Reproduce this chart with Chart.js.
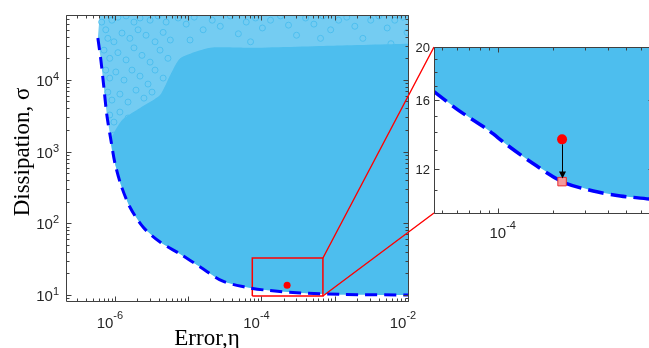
<!DOCTYPE html>
<html>
<head>
<meta charset="utf-8">
<script src="https://cdn.jsdelivr.net/npm/chart.js@4.4.1/dist/chart.umd.min.js"></script>
<style>
  html, body { margin: 0; padding: 0; background: #fff; overflow: hidden; }
  #wrap { position: relative; width: 649px; height: 348px; overflow: hidden; }
  #mainChart { position: absolute; left: 0; top: 0; }
  #insetChart { position: absolute; left: 400px; top: 0; }
</style>
</head>
<body>
<div id="wrap">
  <canvas id="mainChart" width="649" height="348"></canvas>
  <canvas id="insetChart" width="300" height="348"></canvas>
</div>
<script>
// ---- data ----
const mainXRange = [2.15e-7, 1e-2];
const mainYRange = [8.25, 8.04e4];
const insetXRange = [4.5e-5, 7e-4];
const insetYRange = [10, 20];

const mainXTicks = [1e-6, 1e-4, 1e-2];
const mainXTickExp = ['-6', '-4', '-2'];
const mainYTicks = [10, 100, 1000, 10000];
const mainYTickExp = ['1', '2', '3', '4'];
const insetXTicks = [1e-4];
const insetXTickExp = ['-4'];
const insetYTicks = [12, 16, 20];

// pareto front (dashed), main panel
const frontError = [5.85e-7, 6.43e-7, 7.06e-7, 7.76e-7, 8.81e-7, 1.0e-6, 1.21e-6, 1.6e-6, 2.42e-6,
  4.13e-6, 7.77e-6, 1.46e-5, 2.92e-5, 6.04e-5, 1.14e-4, 3.42e-4, 1.21e-3, 1e-2];
const frontDiss = [38400, 18970, 7960, 3236, 1452, 693, 342, 169, 88.7,
  54.8, 37.3, 24.6, 15.7, 12.9, 11.7, 10.7, 10.2, 10];

// outer corner of the sample cloud (top left)
const cloudCorner = [6.2e-7, 8.04e4];

// upper edge of the dense part of the cloud (right to left), joins the front at index 4
const denseEdgeError = [1e-2, 8.8e-4, 7.1e-5, 2.0e-5, 7.8e-6, 5.7e-6, 4.13e-6, 2.2e-6, 1.25e-6];
const denseEdgeDiss = [3.2e4, 3.0e4, 2.8e4, 2.8e4, 2.0e4, 1.17e4, 6150, 4060, 2760];

// individual samples visible in the sparse parts of the cloud
const sampleError = [
  6.6e-7, 7.5e-7, 9.1e-7, 1.10e-6, 1.42e-6, 1.82e-6, 2.2e-6, 3.02e-6, 3.88e-6, 5.0e-6,
  8.0e-7, 9.7e-7, 1.25e-6, 1.6e-6, 2.07e-6, 2.66e-6, 3.53e-6, 4.55e-6, 5.7e-6,
  7.1e-7, 8.5e-7, 1.1e-6, 1.42e-6, 1.82e-6, 2.34e-6, 3.02e-6, 4.13e-6, 5.3e-6,
  7.5e-7, 8.5e-7, 1.03e-6, 1.33e-6, 1.71e-6, 2.2e-6, 2.83e-6, 3.53e-6, 4.55e-6,
  8.0e-7, 9.1e-7, 1.17e-6, 1.51e-6, 1.94e-6, 2.49e-6, 3.21e-6,
  8.5e-7, 9.7e-7, 1.17e-6, 1.51e-6, 9.7e-7, 1.10e-6, 1.33e-6,
  1.10e-6, 1.25e-6, 1.25e-6, 1.51e-6, 1.71e-6, 2.07e-6, 2.66e-6, 3.53e-6, 5.0e-6, 7.3e-6, 1.21e-5, 2.13e-5, 3.76e-5,
  7.3e-6, 9.4e-6, 1.21e-5, 1.6e-5, 2.13e-5, 2.74e-5, 3.76e-5, 4.84e-5, 6.2e-5, 8.3e-5,
  1.03e-4, 1.33e-4, 1.82e-4, 2.34e-4, 3.01e-4, 4.0e-4, 5.2e-4, 6.9e-4, 8.8e-4, 1.13e-3,
  1.46e-3, 1.88e-3, 2.42e-3, 3.1e-3, 4.0e-3, 5.2e-3, 6.6e-3, 8.5e-3, 9.7e-3,
  1.06e-5, 7.1e-5, 6.4e-4, 5.85e-3
];
const sampleDiss = [
  6.4e4, 5.0e4, 6.8e4, 7.5e4, 7.8e4, 6.4e4, 7.3e4, 6.8e4, 7.8e4, 6.4e4,
  3.8e4, 3.4e4, 4.5e4, 3.8e4, 5.0e4, 4.2e4, 3.4e4, 4.6e4, 3.6e4,
  2.6e4, 2.0e4, 2.4e4, 1.9e4, 2.8e4, 2.2e4, 1.77e4, 2.6e4, 2.0e4,
  1.37e4, 1.06e4, 1.29e4, 9950, 1.37e4, 1.13e4, 8750, 1.37e4, 1.06e4,
  6760, 5230, 6340, 4910, 7200, 5570, 6760,
  3240, 2580, 3560, 2940, 1700, 1450, 1880,
  900, 1050, 555, 430, 273, 211, 139, 104, 76, 58, 42, 33, 23.8,
  7.3e4, 6.0e4, 7.5e4, 5.0e4, 6.8e4, 5.6e4, 7.8e4, 4.4e4, 6.4e4, 7.3e4,
  5.3e4, 6.8e4, 7.8e4, 5.8e4, 4.2e4, 7.3e4, 6.0e4, 7.8e4, 5.0e4, 6.8e4,
  7.5e4, 5.6e4, 3.8e4, 6.8e4, 7.8e4, 5.3e4, 6.8e4, 7.5e4, 4.6e4,
  3.6e4, 3.4e4, 3.8e4, 3.2e4
];

// chosen design: before (dot) and after (square) the move onto the front
const markerError = [2.24e-4, 2.24e-4];
const markerDiss = [13.7, 11.4];
const insetMarkerDiss = [13.6, 11.4];

// zoom box in the main panel
const zoomBoxError = [7.5e-5, 6.9e-4];
const zoomBoxDiss = [9.7, 32.8];

// pareto front as seen in the inset
const insetFrontError = [4.5e-5, 6.04e-5, 8.71e-5, 1.12e-4, 1.5e-4, 2.24e-4, 3.31e-4, 4.65e-4, 6.68e-4, 7e-4];
const insetFrontDiss = [16.6, 15.4, 14.2, 13.3, 12.4, 11.4, 10.96, 10.74, 10.6, 10.55];

// ---- styling ----
const CLOUD = 'rgb(77,190,238)';
const CLOUD_LIGHT = 'rgba(77,190,238,0.78)';
const AXIS_COLOR = '#404040';
const LABEL_COLOR = '#262626';
const SANS = '"Liberation Sans", Arial, sans-serif';
const SERIF = '"Liberation Serif", "Times New Roman", serif';

const pts = (xs, ys) => xs.map((v, i) => ({ x: v, y: ys[i] }));

function logTicks(min, max) {
  const out = [];
  for (let d = Math.floor(Math.log10(min)); d <= Math.ceil(Math.log10(max)); d++) {
    for (let k = 1; k <= 9; k++) {
      const v = k * Math.pow(10, d);
      if (v >= min * 0.999 && v <= max * 1.001) out.push({ v: v, major: k === 1 });
    }
  }
  return out;
}

function drawBox(chart, xt, yt) {
  const { ctx, chartArea: a, scales: { x, y } } = chart;
  const L = Math.round(a.left) + 0.5, R = Math.round(a.right) + 0.5;
  const T = Math.round(a.top) + 0.5, B = Math.round(a.bottom) + 0.5;
  ctx.save();
  ctx.strokeStyle = AXIS_COLOR;
  ctx.lineWidth = 1;
  ctx.beginPath();
  ctx.rect(L, T, R - L, B - T);
  xt.forEach(t => {
    const p = Math.round(x.getPixelForValue(t.v)) + 0.5;
    const len = t.major ? 5 : 3;
    ctx.moveTo(p, B); ctx.lineTo(p, B - len);
    ctx.moveTo(p, T); ctx.lineTo(p, T + len);
  });
  yt.forEach(t => {
    const p = Math.round(y.getPixelForValue(t.v)) + 0.5;
    const len = t.major ? 5 : 3;
    ctx.moveTo(L, p); ctx.lineTo(L + len, p);
    ctx.moveTo(R, p); ctx.lineTo(R - len, p);
  });
  ctx.stroke();
  ctx.restore();
}

function drawPow(ctx, exp, ax, base, align, raise) {
  ctx.font = '15px ' + SANS;
  const w1 = ctx.measureText('10').width;
  ctx.font = '11px ' + SANS;
  const w2 = ctx.measureText(exp).width;
  const left = align === 'center' ? ax - (w1 + w2) / 2 : ax - w1 - w2;
  ctx.textAlign = 'left';
  ctx.textBaseline = 'alphabetic';
  ctx.fillStyle = LABEL_COLOR;
  ctx.font = '15px ' + SANS;
  ctx.fillText('10', left, base);
  ctx.font = '11px ' + SANS;
  ctx.fillText(exp, left + w1, base - raise);
}

// ---- inset chart ----
const insetYMinor = [];
for (let v = insetYRange[0]; v <= insetYRange[1]; v++) insetYMinor.push({ v: v, major: insetYTicks.includes(v) });

const insetDecor = {
  id: 'insetDecor',
  beforeDraw(chart) {
    const { ctx, chartArea: a } = chart;
    ctx.save();
    ctx.fillStyle = '#fff';
    ctx.fillRect(a.left, a.top, a.right - a.left, a.bottom - a.top);
    ctx.restore();
  },
  afterDatasetsDraw(chart) {
    const { ctx, scales: { x, y } } = chart;
    const px = Math.round(x.getPixelForValue(markerError[0])) + 0.5;
    const y0 = y.getPixelForValue(insetMarkerDiss[0]) + 5;
    const y1 = y.getPixelForValue(insetMarkerDiss[1]) - 3;
    ctx.save();
    ctx.strokeStyle = '#000';
    ctx.fillStyle = '#000';
    ctx.lineWidth = 1;
    ctx.beginPath();
    ctx.moveTo(px, y0); ctx.lineTo(px, y1 - 5);
    ctx.stroke();
    ctx.beginPath();
    ctx.moveTo(px, y1); ctx.lineTo(px - 3.5, y1 - 7); ctx.lineTo(px + 3.5, y1 - 7);
    ctx.closePath();
    ctx.fill();
    ctx.restore();
  },
  afterDraw(chart) {
    const { ctx, chartArea: a, scales: { x, y } } = chart;
    drawBox(chart, logTicks(insetXRange[0], insetXRange[1]), insetYMinor);
    ctx.save();
    ctx.fillStyle = LABEL_COLOR;
    ctx.font = '13px ' + SANS;
    ctx.textAlign = 'right';
    ctx.textBaseline = 'middle';
    insetYTicks.forEach(v => ctx.fillText(String(v), a.left - 4, y.getPixelForValue(v) + 1));
    ctx.restore();
    insetXTicks.forEach((v, i) => drawPow(ctx, insetXTickExp[i], x.getPixelForValue(v) + 5, a.bottom + 25, 'center', 9));
  }
};

const insetChart = new Chart(document.getElementById('insetChart'), {
  type: 'scatter',
  data: {
    datasets: [
      {
        data: pts([markerError[0]], [insetMarkerDiss[0]]),
        pointRadius: 5, backgroundColor: '#ff0000', borderColor: '#ff0000', borderWidth: 0, order: 0
      },
      {
        data: pts([markerError[1]], [insetMarkerDiss[1]]),
        pointStyle: 'rect', pointRadius: 6, backgroundColor: '#f49a9a', borderColor: '#e83030', borderWidth: 1, order: 1
      },
      {
        data: pts(insetFrontError, insetFrontDiss),
        showLine: true, pointRadius: 0, borderColor: '#0000ff', borderWidth: 3.5, borderDash: [16, 7],
        tension: 0.3, order: 2
      },
      {
        data: pts(insetFrontError.concat([insetXRange[1], insetXRange[0]]),
                  insetFrontDiss.concat([insetYRange[1] * 1.01, insetYRange[1] * 1.01])),
        showLine: true, pointRadius: 0, borderWidth: 0, borderColor: 'rgba(0,0,0,0)',
        backgroundColor: CLOUD, fill: 'shape', order: 3
      }
    ]
  },
  options: {
    responsive: false,
    animation: false,
    layout: { padding: { left: 34, right: 47, top: 47, bottom: 135 } },
    plugins: { legend: { display: false }, tooltip: { enabled: false } },
    scales: {
      x: { type: 'logarithmic', display: false, min: insetXRange[0], max: insetXRange[1], bounds: 'data' },
      y: { type: 'logarithmic', display: false, min: insetYRange[0], max: insetYRange[1], bounds: 'data' }
    }
  },
  plugins: [insetDecor]
});

// ---- main chart ----
const mainDecor = {
  id: 'mainDecor',
  afterDraw(chart) {
    const { ctx, chartArea: a, scales: { x, y } } = chart;
    drawBox(chart, logTicks(mainXRange[0], mainXRange[1]), logTicks(mainYRange[0], mainYRange[1]));
    mainXTicks.forEach((v, i) => drawPow(ctx, mainXTickExp[i], x.getPixelForValue(v) - 5, a.bottom + 27, 'center', 9));
    mainYTicks.forEach((v, i) => drawPow(ctx, mainYTickExp[i], a.left - 7, y.getPixelForValue(v) + 6, 'right', 6));

    ctx.save();
    ctx.fillStyle = '#000';
    ctx.font = '23px ' + SERIF;
    ctx.textAlign = 'center';
    ctx.textBaseline = 'alphabetic';
    ctx.fillText('Error,\u03b7', a.left + 141, a.bottom + 44);
    ctx.translate(a.left - 37, (a.top + a.bottom) / 2 - 6);
    ctx.rotate(-Math.PI / 2);
    ctx.fillText('Dissipation, \u03c3', 0, 0);
    ctx.restore();

    // connectors from the zoom box to the inset
    const ia = insetChart.chartArea;
    const off = insetChart.canvas.offsetLeft;
    const bx = x.getPixelForValue(zoomBoxError[1]);
    ctx.save();
    ctx.strokeStyle = '#ff0000';
    ctx.lineWidth = 1.4;
    ctx.beginPath();
    ctx.moveTo(bx, y.getPixelForValue(zoomBoxDiss[1]));
    ctx.lineTo(ia.left + off, ia.top);
    ctx.moveTo(bx, y.getPixelForValue(zoomBoxDiss[0]));
    ctx.lineTo(ia.left + off, ia.bottom);
    ctx.stroke();
    ctx.restore();
  }
};

const boxXs = [zoomBoxError[0], zoomBoxError[1], zoomBoxError[1], zoomBoxError[0], zoomBoxError[0]];
const boxYs = [zoomBoxDiss[0], zoomBoxDiss[0], zoomBoxDiss[1], zoomBoxDiss[1], zoomBoxDiss[0]];

new Chart(document.getElementById('mainChart'), {
  type: 'scatter',
  data: {
    datasets: [
      {
        data: pts(frontError, frontDiss),
        showLine: true, pointRadius: 0, borderColor: '#0000ff', borderWidth: 3, borderDash: [12, 7],
        tension: 0.3, order: 0
      },
      {
        data: pts([markerError[0]], [markerDiss[0]]),
        pointRadius: 3.5, backgroundColor: '#ff0000', borderColor: '#ff0000', borderWidth: 0, order: 1
      },
      {
        data: pts(boxXs, boxYs),
        showLine: true, pointRadius: 0, borderColor: '#ff0000', borderWidth: 1.5, order: 2
      },
      {
        data: pts(sampleError, sampleDiss),
        pointRadius: 3, backgroundColor: 'rgba(0,0,0,0)', borderColor: CLOUD, borderWidth: 1, order: 3
      },
      {
        data: pts(denseEdgeError.concat(frontError.slice(4)), denseEdgeDiss.concat(frontDiss.slice(4))),
        showLine: true, pointRadius: 0, borderWidth: 0, borderColor: 'rgba(0,0,0,0)',
        backgroundColor: CLOUD, fill: 'shape', tension: 0.2, order: 4
      },
      {
        data: pts([cloudCorner[0]].concat(frontError, [mainXRange[1]]),
                  [cloudCorner[1]].concat(frontDiss, [mainYRange[1]])),
        showLine: true, pointRadius: 0, borderWidth: 0, borderColor: 'rgba(0,0,0,0)',
        backgroundColor: CLOUD_LIGHT, fill: 'shape', order: 5
      }
    ]
  },
  options: {
    responsive: false,
    animation: false,
    layout: { padding: { left: 66, right: 241, top: 15, bottom: 47 } },
    plugins: { legend: { display: false }, tooltip: { enabled: false } },
    scales: {
      x: { type: 'logarithmic', display: false, min: mainXRange[0], max: mainXRange[1], bounds: 'data' },
      y: { type: 'logarithmic', display: false, min: mainYRange[0], max: mainYRange[1], bounds: 'data' }
    }
  },
  plugins: [mainDecor]
});
</script>
</body>
</html>
